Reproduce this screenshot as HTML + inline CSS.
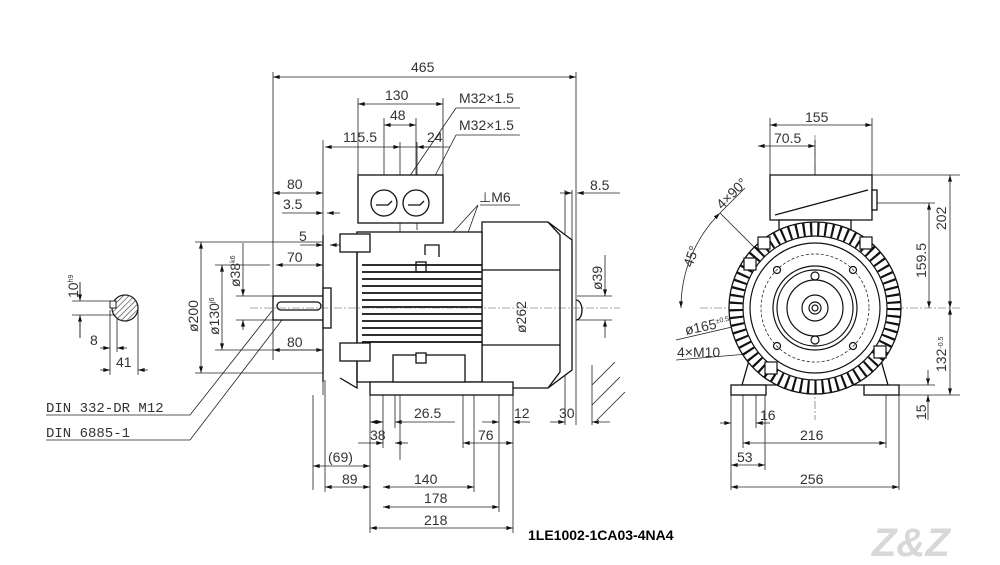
<!DOCTYPE html>
<html><head><meta charset="utf-8"><style>
html,body{margin:0;padding:0;background:#fff}
svg{display:block}
text{font-family:"Liberation Sans","DejaVu Sans",sans-serif;fill:#333;font-size:14px}
</style></head><body>
<svg width="1000" height="565" viewBox="0 0 1000 565" xmlns="http://www.w3.org/2000/svg">
<defs>
<marker id="a" viewBox="0 0 10 6" refX="10" refY="3" markerWidth="8" markerHeight="4" orient="auto-start-reverse" markerUnits="userSpaceOnUse"><path d="M0,0L10,3L0,6z" fill="#111"/></marker>
<pattern id="h" width="4" height="4" patternUnits="userSpaceOnUse" patternTransform="rotate(45)"><line x1="0" y1="0" x2="0" y2="4" stroke="#333" stroke-width="1.2"/></pattern>
</defs>
<g stroke="#222" stroke-width="0.8" fill="none">
<path d="M273,72V360 M576,72V425 M572,190V300 M323,140V395 M358,98V175 M443,98V175 M384,118V203 M416,118V203 M400,142V460 M417,142V230 M370,395V533 M383,395V448 M395,395V428 M313,395V490 M325,380V492 M463,395V448 M474,395V492 M499,395V512 M513,395V533 M565,190V425"/>
<path d="M273,77H576" marker-start="url(#a)" marker-end="url(#a)"/>
<path d="M358,104H443" marker-start="url(#a)" marker-end="url(#a)"/>
<path d="M384,125H416" marker-start="url(#a)" marker-end="url(#a)"/>
<path d="M325,147H400" marker-start="url(#a)" marker-end="url(#a)"/>
<path d="M400,147H417 M417,147H450" />
<path d="M440,147H417" marker-end="url(#a)"/>
<path d="M273,193H323" marker-start="url(#a)" marker-end="url(#a)"/>
<path d="M282,213H323" marker-end="url(#a)"/><path d="M340,213H327" marker-end="url(#a)"/>
<path d="M300,245H323" marker-end="url(#a)"/><path d="M345,245H330" marker-end="url(#a)"/>
<path d="M276,265H323" marker-start="url(#a)" marker-end="url(#a)"/>
<path d="M273,350H323" marker-start="url(#a)" marker-end="url(#a)"/>
<path d="M560,193H572" marker-end="url(#a)"/><path d="M620,193H577" marker-end="url(#a)"/>
<path d="M456,108H520 M456,108L390,205 M456,135H520 M456,135L420,205 M480,205H520 M478,205L423,265 M478,205L421,362"/>
<path d="M195,242H323 M215,265H270 M236,296H273 M236,320H273 M215,350H323 M195,373H323"/>
<path d="M201,242V373" marker-start="url(#a)" marker-end="url(#a)"/>
<path d="M222,265V350" marker-start="url(#a)" marker-end="url(#a)"/>
<path d="M243,243V296" marker-end="url(#a)"/><path d="M243,330V320" marker-end="url(#a)"/>
<path d="M528,222V388" marker-start="url(#a)" marker-end="url(#a)"/>
<path d="M577,296H612 M577,320H612"/>
<path d="M605,255V296" marker-end="url(#a)"/><path d="M605,338V320" marker-end="url(#a)"/>
<path d="M592,365V425 M592,385L615,362 M592,405L620,377 M597,420L625,392"/>
<path d="M550,422H565" marker-end="url(#a)"/><path d="M610,422H592" marker-end="url(#a)"/>
<path d="M370,422H383" marker-start="url(#a)" marker-end="url(#a)"/><path d="M400,422H395" marker-end="url(#a)"/><path d="M395,422H455"/>
<path d="M482,422H499" marker-end="url(#a)"/><path d="M530,422H513" marker-end="url(#a)"/>
<path d="M358,443H383" marker-end="url(#a)"/><path d="M408,443H395" marker-end="url(#a)"/>
<path d="M463,443H513" marker-start="url(#a)" marker-end="url(#a)"/>
<path d="M313,466H370" marker-start="url(#a)" marker-end="url(#a)"/>
<path d="M325,487H370" marker-start="url(#a)" marker-end="url(#a)"/>
<path d="M383,487H474" marker-start="url(#a)" marker-end="url(#a)"/>
<path d="M383,507H499" marker-start="url(#a)" marker-end="url(#a)"/>
<path d="M370,528H513" marker-start="url(#a)" marker-end="url(#a)"/>
<path d="M46,415H190L272,311 M46,440H190L285,316"/>
<path d="M80,282V298 M80,318V338 M72,301H115 M72,315H115"/>
<path d="M80,282V301" marker-end="url(#a)"/><path d="M80,338V315" marker-end="url(#a)"/>
<path d="M110,310V375 M117,318V352 M138,308V375"/>
<path d="M100,348H110" marker-end="url(#a)"/><path d="M127,348H117" marker-end="url(#a)"/>
<path d="M100,370H110" marker-end="url(#a)"/><path d="M148,370H138" marker-end="url(#a)"/>
</g>
<circle cx="125" cy="308" r="13" fill="url(#h)" stroke="#222" stroke-width="1.3"/>
<rect x="110" y="301" width="6" height="7" fill="#fff" stroke="#222"/>
<g stroke="#111" stroke-width="1.3" fill="#fff">
<rect x="358" y="175" width="85" height="48"/>
<circle cx="384" cy="203" r="13"/><circle cx="416" cy="203" r="13"/>
<path d="M376,205h12l4,-4 M408,205h12l4,-4" fill="none"/>
<path d="M572,240L548,222H482V388H548L572,370z"/>
<path d="M482,270H560 M482,345H560 M548,222L560,235V372L548,388" fill="none"/>
<rect x="357" y="232" width="125" height="150"/>
<path d="M340,245L357,237V388L340,378 M323,235V382" fill="none"/>
<rect x="273" y="296" width="50" height="24"/>
<rect x="277" y="302" width="44" height="8" rx="4"/>
<rect x="323" y="288" width="8" height="40"/>
<rect x="340" y="234" width="30" height="18"/><rect x="340" y="343" width="30" height="18"/>
<rect x="370" y="382" width="143" height="13"/>
<rect x="393" y="355" width="72" height="27"/>
<rect x="416" y="262" width="10" height="10"/><rect x="416" y="353" width="10" height="10"/>
<path d="M425,255v-10h14v12" fill="none"/>
<path d="M576,300a6,10 0 0 1 0,20" fill="none"/>
</g>
<g stroke="#111" stroke-width="1.8">
<path d="M362,265H482M362,272H482M362,279H482M362,286H482M362,293H482M362,300H482M362,307H482M362,314H482M362,321H482M362,328H482M362,335H482M362,342H482"/>
</g>
<path d="M250,308H620 M700,308H960 M815,135V420" stroke="#555" stroke-width="0.6" stroke-dasharray="8,2,2,2" fill="none"/>
<g stroke="#222" stroke-width="0.8" fill="none">
<path d="M770,118V175 M872,118V175 M815,140V175 M872,175H960 M872,203H935 M899,395H960 M880,385H935 M731,395V490 M756,395V428 M743,395V448 M765,395V470 M886,395V448 M899,395V490"/>
<path d="M770,125H872" marker-start="url(#a)" marker-end="url(#a)"/>
<path d="M758,146H815" marker-start="url(#a)" marker-end="url(#a)"/>
<path d="M950,175V308" marker-start="url(#a)" marker-end="url(#a)"/>
<path d="M929,203V308" marker-start="url(#a)" marker-end="url(#a)"/>
<path d="M950,308V395" marker-start="url(#a)" marker-end="url(#a)"/>
<path d="M928,370V385" marker-end="url(#a)"/><path d="M928,420V395" marker-end="url(#a)"/>
<path d="M720,423H731" marker-end="url(#a)"/><path d="M770,423H756" marker-end="url(#a)"/>
<path d="M743,443H886" marker-start="url(#a)" marker-end="url(#a)"/>
<path d="M731,465H765" marker-start="url(#a)" marker-end="url(#a)"/>
<path d="M731,487H899" marker-start="url(#a)" marker-end="url(#a)"/>
<path d="M681,308A134,134 0 0 1 720,213" marker-start="url(#a)" marker-end="url(#a)"/>
<path d="M720,213L775,268 M720,213L745,188"/>
<path d="M676,360L760,353 M676,340L870,295" />
</g>
<g stroke="#111" stroke-width="1.3" fill="#fff">
<path d="M770,175H872V220H770z"/><path d="M775,215L868,190" fill="none"/>
<rect x="872" y="190" width="5" height="20"/>
<rect x="779" y="220" width="72" height="20"/>
<path d="M742,385L752,350H772L790,385Z M888,385L878,350H858L840,385Z"/>
<rect x="731" y="385" width="35" height="10"/><rect x="864" y="385" width="35" height="10"/>
<circle cx="815" cy="308" r="86"/>
</g>
<circle cx="815" cy="308" r="79" fill="none" stroke="#111" stroke-width="13" stroke-dasharray="2.2,5"/>
<g stroke="#111" stroke-width="1.2" fill="none">
<circle cx="815" cy="308" r="72" fill="#fff"/>
<circle cx="815" cy="308" r="65"/>
<circle cx="815" cy="308" r="54" stroke-dasharray="3,2" stroke-width="0.7"/>
<circle cx="815" cy="308" r="42"/><circle cx="815" cy="308" r="38"/>
<circle cx="815" cy="308" r="28"/><circle cx="815" cy="308" r="13"/>
<circle cx="815" cy="308" r="6"/><circle cx="815" cy="308" r="3"/>
<circle cx="777" cy="270" r="3.5"/><circle cx="853" cy="270" r="3.5"/><circle cx="777" cy="346" r="3.5"/><circle cx="853" cy="346" r="3.5"/>
<circle cx="815" cy="276" r="4"/><circle cx="815" cy="340" r="4"/>
<rect x="744" y="258" width="12" height="12" fill="#fff"/><rect x="758" y="237" width="12" height="12" fill="#fff"/>
<rect x="860" y="237" width="12" height="12" fill="#fff"/><rect x="874" y="346" width="12" height="12" fill="#fff"/>
<rect x="765" y="362" width="12" height="12" fill="#fff"/>
</g>
<text x="411" y="72">465</text>
<text x="385" y="100">130</text>
<text x="390" y="120">48</text>
<text x="343" y="142">115.5</text>
<text x="427" y="142">24</text>
<text x="459" y="103">M32×1.5</text>
<text x="459" y="130">M32×1.5</text>
<text x="479" y="202">⊥M6</text>
<text x="287" y="189">80</text>
<text x="283" y="209">3.5</text>
<text x="299" y="241">5</text>
<text x="287" y="262">70</text>
<text x="287" y="347">80</text>
<text x="590" y="190">8.5</text>
<text x="559" y="418">30</text>
<text x="414" y="418">26.5</text>
<text x="514" y="418">12</text>
<text x="370" y="440">38</text>
<text x="478" y="440">76</text>
<text x="328" y="462">(69)</text>
<text x="342" y="484">89</text>
<text x="414" y="484">140</text>
<text x="424" y="503">178</text>
<text x="424" y="525">218</text>
<text x="46" y="412" style="font-family:'Liberation Mono',monospace">DIN 332-DR M12</text>
<text x="46" y="437" style="font-family:'Liberation Mono',monospace">DIN 6885-1</text>
<text x="90" y="345">8</text>
<text x="116" y="367">41</text>
<text transform="translate(78,298) rotate(-90)">10<tspan font-size="7" dy="-5">h9</tspan></text>
<text transform="translate(198,332) rotate(-90)">ø200</text>
<text transform="translate(219,335) rotate(-90)">ø130<tspan font-size="7" dy="-5">j6</tspan></text>
<text transform="translate(240,287) rotate(-90)">ø38<tspan font-size="7" dy="-5">k6</tspan></text>
<text transform="translate(526,333) rotate(-90)">ø262</text>
<text transform="translate(602,290) rotate(-90)">ø39</text>
<text x="805" y="122">155</text>
<text x="774" y="143">70.5</text>
<text transform="translate(946,230) rotate(-90)">202</text>
<text transform="translate(926,278) rotate(-90)">159.5</text>
<text transform="translate(946,372) rotate(-90)">132<tspan font-size="7" dy="-3">-0.5</tspan></text>
<text transform="translate(926,420) rotate(-90)">15</text>
<text x="760" y="420">16</text>
<text x="800" y="440">216</text>
<text x="737" y="462">53</text>
<text x="800" y="484">256</text>
<text transform="translate(692,268) rotate(-70)">45°</text>
<text transform="translate(722,210) rotate(-45)">4×90°</text>
<text transform="translate(686,335) rotate(-12)">ø165<tspan font-size="7" dy="-5">±0.5</tspan></text>
<text x="677" y="357">4×M10</text>
<text x="528" y="540" style="font-weight:bold;font-size:14px;fill:#000">1LE1002-1CA03-4NA4</text>
<text x="872" y="556" style="font-weight:bold;font-style:italic;font-size:40px;fill:#d8d8d8">Z&amp;Z</text>
</svg>
</body></html>
